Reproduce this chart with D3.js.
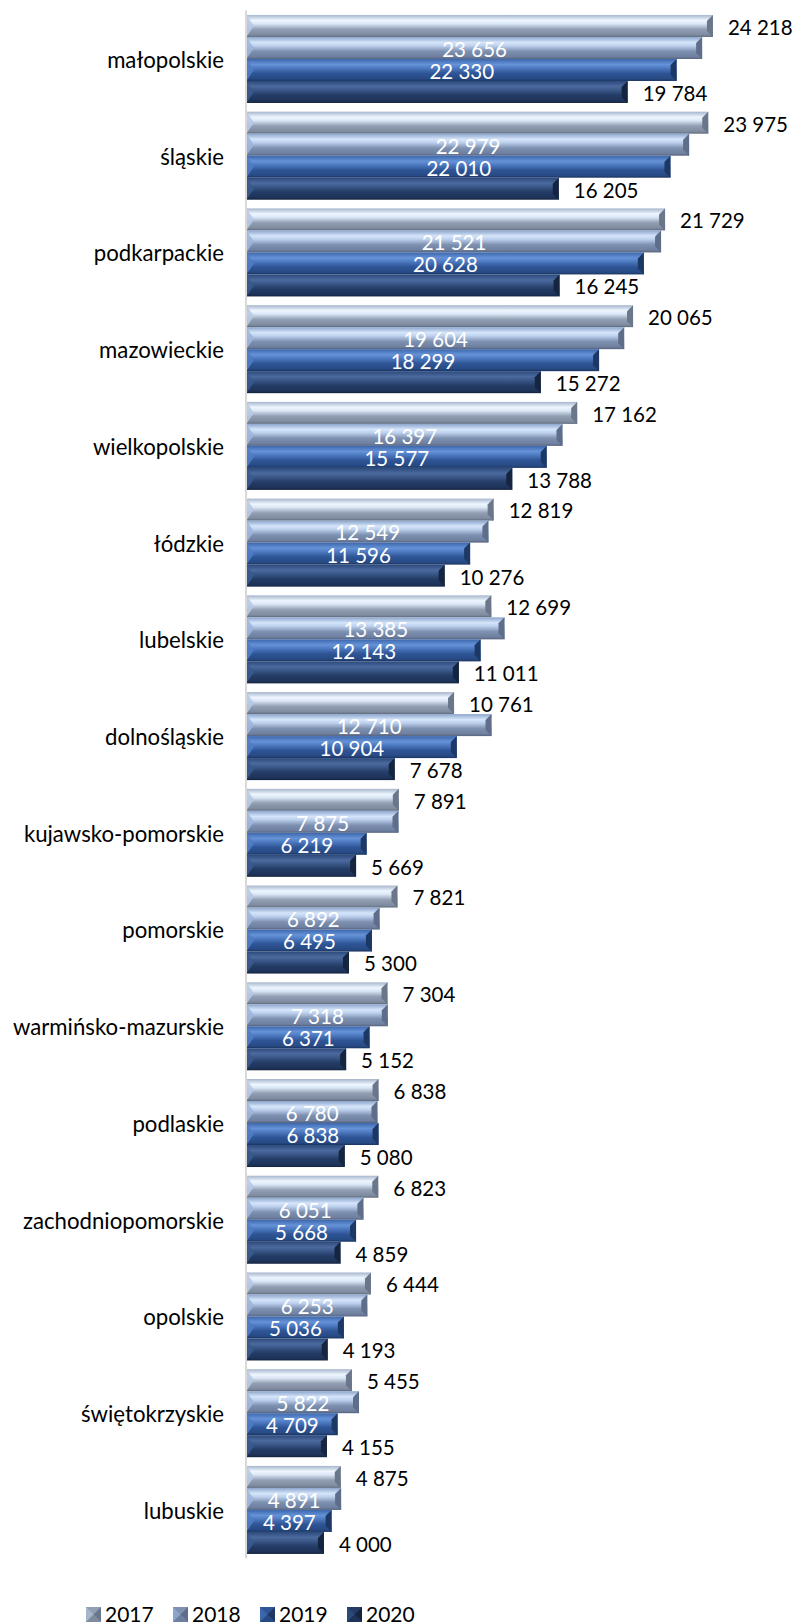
<!DOCTYPE html>
<html>
<head>
<meta charset="utf-8">
<script src="https://cdn.jsdelivr.net/npm/d3@7"></script>
<style>
  html, body { margin: 0; padding: 0; background: #fff; }
  svg { display: block; font-family: Lato, "Open Sans", sans-serif; }
</style>
</head>
<body>
<svg id="chart" width="797" height="1624"></svg>
<script>
// Voivodeships, top to bottom
const categories = [
  "małopolskie", "śląskie", "podkarpackie", "mazowieckie", "wielkopolskie",
  "łódzkie", "lubelskie", "dolnośląskie", "kujawsko-pomorskie", "pomorskie",
  "warmińsko-mazurskie", "podlaskie", "zachodniopomorskie", "opolskie",
  "świętokrzyskie", "lubuskie"
];
const years = ["2017", "2018", "2019", "2020"];

const values2017 = [24218, 23975, 21729, 20065, 17162, 12819, 12699, 10761, 7891, 7821, 7304, 6838, 6823, 6444, 5455, 4875];
const values2018 = [23656, 22979, 21521, 19604, 16397, 12549, 13385, 12710, 7875, 6892, 7318, 6780, 6051, 6253, 5822, 4891];
const values2019 = [22330, 22010, 20628, 18299, 15577, 11596, 12143, 10904, 6219, 6495, 6371, 6838, 5668, 5036, 4709, 4397];
const values2020 = [19784, 16205, 16245, 15272, 13788, 10276, 11011, 7678, 5669, 5300, 5152, 5080, 4859, 4193, 4155, 4000];

const seriesValues = [values2017, values2018, values2019, values2020];

// Bevel shading per series: vertical face gradient, left and right end facets
const styles = [
  { stops: ["#a7b6cd", "#eef6ff", "#dbe7f6", "#919eb3", "#7f8b9f", "#5e697b"], left: "#b7c9e6", right: "#6a768a", label: "#000", inside: false },
  { stops: ["#8ca5cc", "#d5e5fa", "#bdd1ee", "#7e91b1", "#6e7f9f", "#55627c"], left: "#9db6de", right: "#5d6d8a", label: "#fff", inside: true },
  { stops: ["#3c67ad", "#6692d7", "#4f7cc3", "#2f5596", "#274a84", "#1a335f"], left: "#4f7cc4", right: "#1e3865", label: "#fff", inside: true },
  { stops: ["#2b497b", "#4c6a9e", "#3b598a", "#243c66", "#1e3359", "#13223e"], left: "#3a5a8d", right: "#15253f", label: "#000", inside: false }
];
const stopOffsets = [0, 0.25, 0.4, 0.65, 0.9, 1];

const svg = d3.select("#chart");
const defs = svg.append("defs");

styles.forEach((s, i) => {
  const g = defs.append("linearGradient")
    .attr("id", "face" + i)
    .attr("x1", 0).attr("y1", 0).attr("x2", 0).attr("y2", 1);
  s.stops.forEach((c, k) => g.append("stop").attr("offset", stopOffsets[k]).attr("stop-color", c));
});

const x = d3.scaleLinear().domain([0, 25000]).range([247, 728]);
const y = d3.scaleBand().domain(categories).range([10.6, 1558.3])
  .paddingInner(0.09).paddingOuter(0.045);
const ySub = d3.scaleBand().domain(years).range([0, y.bandwidth()]).padding(0);

// Category axis line
svg.append("line")
  .attr("x1", x(0) - 1).attr("x2", x(0) - 1)
  .attr("y1", y.range()[0]).attr("y2", y.range()[1])
  .attr("stroke", "#d9d9d9").attr("stroke-width", 2);

// Category labels
svg.append("g").selectAll("text")
  .data(categories)
  .join("text")
  .attr("x", 224)
  .attr("y", d => y(d) + y.bandwidth() / 2)
  .attr("dy", "0.4em")
  .attr("text-anchor", "end")
  .attr("font-size", 22.2)
  .attr("fill", "#000")
  .text(d => d);

const bev = 6;

function drawBar(g, x0, x1, y0, h, si) {
  const y1 = y0 + h, w = x1 - x0;
  const b = Math.min(bev, w / 2);
  g.append("rect")
    .attr("x", x0).attr("y", y0).attr("width", w).attr("height", h)
    .attr("fill", `url(#face${si})`);
  // left facet
  g.append("path")
    .attr("d", `M${x0},${y0 + 1}L${x0 + b + 1},${y0 + h / 2}L${x0},${y1 - 1}Z`)
    .attr("fill", styles[si].left).attr("opacity", 0.9);
  // right facet
  g.append("path")
    .attr("d", `M${x1},${y0}L${x1 - b},${y0 + b}L${x1 - b},${y1 - b}L${x1},${y1}Z`)
    .attr("fill", styles[si].right);
}

const bars = svg.append("g");
const labels = svg.append("g").attr("font-size", 20.5);

categories.forEach((cat, ci) => {
  years.forEach((yr, si) => {
    const v = seriesValues[si][ci];
    const y0 = y(cat) + ySub(yr);
    const h = ySub.bandwidth();
    drawBar(bars, x(0), x(v), y0, h, si);
    const st = styles[si];
    labels.append("text")
      .attr("x", st.inside ? (x(0) + x(v)) / 2 : x(v) + 15)
      .attr("y", y0 + h / 2 + 1.5)
      .attr("dy", "0.36em")
      .attr("text-anchor", st.inside ? "middle" : "start")
      .attr("fill", st.label)
      .text(d3.format(",")(v).replace(/,/g, " "));
  });
});

// Legend: small bevelled squares
const legend = svg.append("g");
years.forEach((yr, i) => {
  const lx = 86 + i * 87, ly = 1607, s = 15;
  const g = legend.append("g");
  const st = styles[i];
  g.append("rect").attr("x", lx).attr("y", ly).attr("width", s).attr("height", s).attr("fill", st.stops[3]);
  g.append("path").attr("d", `M${lx},${ly}L${lx + s},${ly}L${lx + s / 2},${ly + s / 2}Z`).attr("fill", st.stops[3]);
  g.append("path").attr("d", `M${lx},${ly}L${lx + s / 2},${ly + s / 2}L${lx},${ly + s}Z`).attr("fill", st.stops[0]);
  g.append("path").attr("d", `M${lx + s},${ly}L${lx + s / 2},${ly + s / 2}L${lx + s},${ly + s}Z`).attr("fill", st.right);
  g.append("path").attr("d", `M${lx},${ly + s}L${lx + s / 2},${ly + s / 2}L${lx + s},${ly + s}Z`).attr("fill", st.stops[4]);
  g.append("text")
    .attr("x", lx + 19).attr("y", 1621.5)
    .attr("font-size", 21).attr("fill", "#000")
    .text(yr);
});
</script>
</body>
</html>
